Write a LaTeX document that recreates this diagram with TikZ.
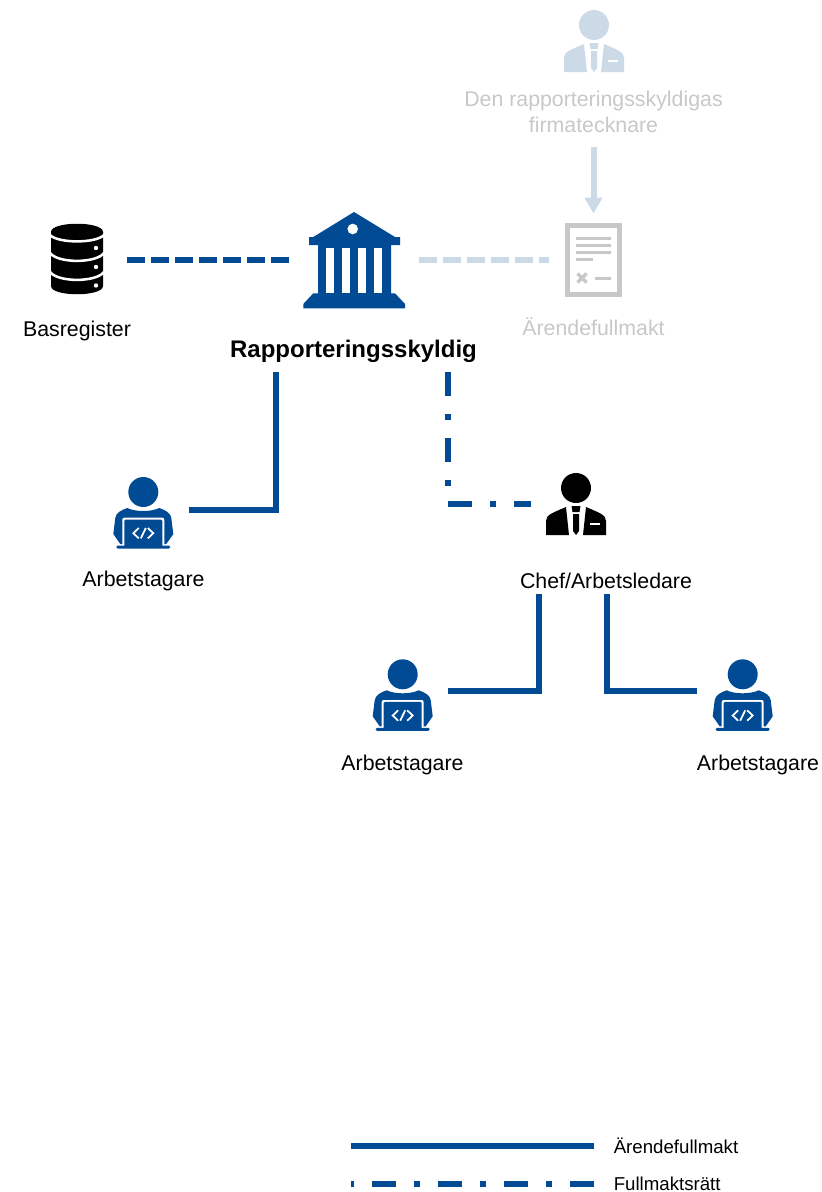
\documentclass[tikz,border=0pt]{standalone}
\usepackage{fontspec}
\setmainfont{Liberation Sans}
\usetikzlibrary{arrows.meta}
\definecolor{fkblue}{HTML}{004B93}
\definecolor{fkpale}{HTML}{CCDAE8}
\definecolor{fkgray}{HTML}{C8C8C8}
\tikzset{
	solidline/.style={line width=4.5pt,fkblue},
	dashline/.style={line width=4.5pt,dash pattern=on 13.5pt off 4.5pt},
	rightline/.style={line width=4.5pt,fkblue,dash pattern=on 18pt off 13.5pt on 4.5pt off 13.5pt},
	iconbox/.style={minimum width=#1,inner sep=0pt,outer sep=0pt},
	biglabel/.style={anchor=base,font=\fontsize{16}{18}\selectfont,inner sep=0pt},
	smalllabel/.style={anchor=base west,font=\fontsize{14}{16}\selectfont,inner sep=0pt},
	pics/chiefman/.style={code={
		\fill[#1] (0,0) circle (15);
		\fill[#1] (-30,47) -- (-30,33) .. controls (-30,27) and (-24,25) .. (-10,19) -- (-7,47) -- cycle;
		\fill[#1] (30,47) -- (30,33) .. controls (30,27) and (24,25) .. (10,19) -- (7,47) -- cycle;
		\fill[#1] (-4.5,18) -- (4.5,18) -- (3.5,24) -- (-3.5,24) -- cycle;
		\fill[#1] (-3,26) -- (3,26) -- (3,43) -- (0,47) -- (-3,43) -- cycle;
		\fill[white] (14,35) rectangle (24,37);
	}},
	pics/coder/.style={code={
		\fill[fkblue] (0,0) circle (15);
		\fill[fkblue] (-23,52) -- (-30,42) -- (-28,26) .. controls (-27.5,21) and (-22,18) .. (-16,16) .. controls (-8,20) and (8,20) .. (16,16) .. controls (22,18) and (27.5,21) .. (28,26) -- (30,42) -- (23,52) -- cycle;
		\fill[white,rounded corners=1.5] (-21,25.7) rectangle (21,60);
		\fill[fkblue,rounded corners=1] (-19,27.5) rectangle (19,55);
		\fill[fkblue,rounded corners=1] (-27,53.5) rectangle (27,56.5);
		\draw[white,line width=1.3pt] (-4.5,36) -- (-10,41.2) -- (-4.5,46.4);
		\draw[white,line width=1.3pt] (-2.5,46.4) -- (2.5,36);
		\draw[white,line width=1.3pt] (4.5,36) -- (10,41.2) -- (4.5,46.4);
	}}
}
\begin{document}
\begin{tikzpicture}[x=0.75pt,y=-0.75pt]
	\useasboundingbox (0,0) rectangle (821,1192);

	\coordinate (ownerleft) at (275.7,372);
	\coordinate (ownerright) at (448,372);
	\coordinate (chiefleft) at (538.7,594);
	\coordinate (chiefright) at (606.7,594);
	\coordinate (signerfoot) at (593.5,147);
	\coordinate (keyAstart) at (351,1146);
	\coordinate (keyAend) at (594,1146);
	\coordinate (keyBstart) at (594,1184);
	\coordinate (keyBend) at (351,1184);

	\node[iconbox=75pt] (registericon) at (77,260) {};
	\node[iconbox=96pt] (bankicon) at (354.5,260) {};
	\node[iconbox=66.75pt,minimum height=69.75pt] (papericon) at (593.5,260) {};
	\node[iconbox=69pt] (workerAicon) at (143,510) {};
	\node[iconbox=67.5pt] (chieficon) at (576,504) {};
	\node[iconbox=69pt] (workerBicon) at (402,691) {};
	\node[iconbox=67.5pt] (workerCicon) at (742,691) {};

	\pic at (594,25) {chiefman=fkpale};
	\pic at (576,488) {chiefman=black};
	\pic at (143.3,492) {coder};
	\pic at (402.7,674.3) {coder};
	\pic at (742.7,674.3) {coder};

	\fill[black] (51,232) .. controls (51,221) and (103,221) .. (103,232) -- (103,286) .. controls (103,297) and (51,297) .. (51,286) -- cycle;
	\draw[white,line width=1.9pt] (50,235) .. controls (58,243.5) and (96,243.5) .. (104,235);
	\draw[white,line width=1.9pt] (50,253) .. controls (58,263.5) and (96,263.5) .. (104,253);
	\draw[white,line width=1.9pt] (50,272) .. controls (58,282.5) and (96,282.5) .. (104,272);
	\fill[white] (96,248) circle (2.2);
	\fill[white] (96,267) circle (2.2);
	\fill[white] (96,285.5) circle (2.2);

	\fill[fkblue] (354,212) -- (395,237) -- (400,237) -- (400,245) -- (391,245) -- (391,293.3) -- (395,293.3) -- (405,304) -- (405,308.3) -- (303.3,308.3) -- (303.3,304) -- (313.3,293.3) -- (318,293.3) -- (318,245) -- (309,245) -- (309,237) -- (313.3,237) -- cycle;
	\fill[white] (352.7,229) circle (5.3);
	\fill[white] (326.3,247.7) rectangle (334.3,293.3);
	\fill[white] (342.3,247.7) rectangle (350.3,293.3);
	\fill[white] (358.3,247.7) rectangle (366.3,293.3);
	\fill[white] (374.3,247.7) rectangle (382.3,293.3);

	\fill[fkgray] (565,223) rectangle (622,297);
	\fill[white] (570,228) rectangle (617,292);
	\fill[fkgray] (576,236.5) rectangle (611,239.5);
	\fill[fkgray] (576,243.5) rectangle (611,246.5);
	\fill[fkgray] (576,250.5) rectangle (611,253.5);
	\fill[fkgray] (576,258) rectangle (593,261);
	\fill[fkgray] (595,276.5) rectangle (611,279.5);
	\draw[fkgray,line width=2.6pt] (577.5,273.5) -- (586.5,282.5);
	\draw[fkgray,line width=2.6pt] (586.5,273.5) -- (577.5,282.5);

	\node[biglabel,align=center,text=fkgray] (signerlabel) at (593.5,132) {Den rapporteringsskyldigas\\[1.5pt]firmatecknare};
	\node[biglabel] (registerlabel) at (77,336) {Basregister};
	\node[biglabel,font=\fontsize{18}{20}\selectfont\bfseries] (ownerlabel) at (353.5,357) {Rapporteringsskyldig};
	\node[biglabel,text=fkgray] (paperlabel) at (593.5,335) {Ärendefullmakt};
	\node[biglabel] (workerAlabel) at (143.5,586) {Arbetstagare};
	\node[biglabel] (chieflabel) at (606,588) {Chef/Arbetsledare};
	\node[biglabel] (workerBlabel) at (402.5,770) {Arbetstagare};
	\node[biglabel] (workerClabel) at (758,770) {Arbetstagare};
	\node[smalllabel] (keyAlabel) at (613.5,1153) {Ärendefullmakt};
	\node[smalllabel] (keyBlabel) at (613.5,1190) {Fullmaktsrätt};

	\draw[dashline,fkblue] (registericon.east) -- (bankicon.west);
	\draw[dashline,fkpale] (bankicon.east) -- (papericon.west);
	\draw[line width=4.5pt,fkpale,-{Triangle[length=12pt,width=13pt]}] (signerfoot) -- (papericon.north);
	\draw[solidline] (ownerleft) |- (workerAicon.east);
	\draw[rightline] (ownerright) |- (chieficon.west);
	\draw[solidline] (chiefleft) |- (workerBicon.east);
	\draw[solidline] (chiefright) |- (workerCicon.west);
	\draw[solidline] (keyAstart) -- (keyAend);
	\draw[rightline] (keyBstart) -- (keyBend);
\end{tikzpicture}
\end{document}
